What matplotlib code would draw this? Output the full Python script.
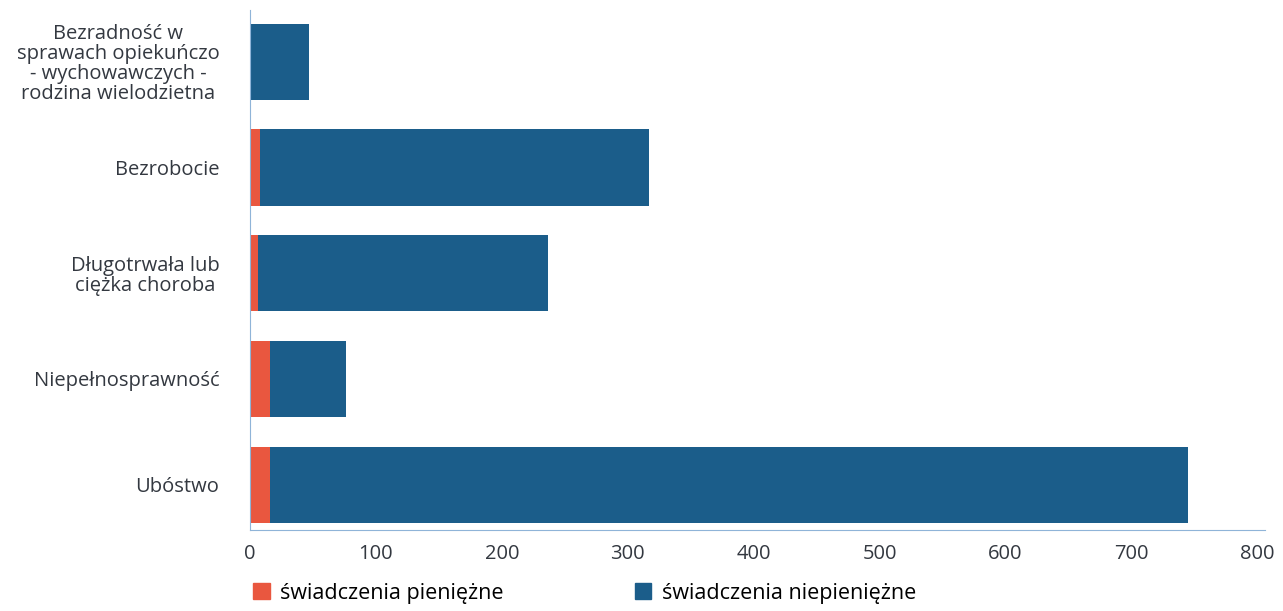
import matplotlib

matplotlib.use("Agg")
import matplotlib.pyplot as plt
from matplotlib.patches import Patch

categories = [
    "Bezradność w\nsprawach opiekuńczo\n- wychowawczych -\nrodzina wielodzietna",
    "Bezrobocie",
    "Długotrwała lub\nciężka choroba",
    "Niepełnosprawność",
    "Ubóstwo",
]
pieniezne = [0, 8, 6, 16, 16]
niepieniezne = [47, 309, 231, 60, 729]
series_names = ["świadczenia pieniężne", "świadczenia niepieniężne"]
xticks = [0, 100, 200, 300, 400, 500, 600, 700, 800]

ORANGE = "#e9573f"
BLUE = "#1b5d8a"

plt.rcParams["font.family"] = ["Open Sans", "DejaVu Sans"]

fig = plt.figure(figsize=(12.83, 6.11), dpi=100)
ax = fig.add_axes([250 / 1283, 81 / 611, 1015 / 1283, 520 / 611])

y = list(range(len(categories)))[::-1]
ax.barh(y, pieniezne, height=0.72, color=ORANGE)
ax.barh(y, niepieniezne, left=pieniezne, height=0.72, color=BLUE)

ax.set_xlim(0, 806)
ax.set_ylim(-0.43, 4.49)
ax.set_xticks(xticks)
ax.set_xticklabels([str(t) for t in xticks], fontsize=14.5, color="#333840")
ax.set_yticks(y)
ax.set_yticklabels(categories, fontsize=14.5, color="#333840",
                   multialignment="center", linespacing=1.0)
ax.tick_params(axis="x", length=0, pad=10)
ax.tick_params(axis="y", length=0, pad=22)

for s in ["top", "right"]:
    ax.spines[s].set_visible(False)
ax.spines["left"].set_color("#8fb4d8")
ax.spines["bottom"].set_color("#8fb4d8")
ax.spines["bottom"].set_linestyle((0, (2, 1)))

handles = [Patch(color=ORANGE), Patch(color=BLUE)]
fig.legend(handles, series_names, loc="lower left", bbox_to_anchor=(234 / 1283, -0.02),
           ncol=2, frameon=False, fontsize=15.5, handlelength=0.75, handleheight=0.75,
           handletextpad=0.5, columnspacing=6.1)

fig.savefig("out.png", dpi=100)
